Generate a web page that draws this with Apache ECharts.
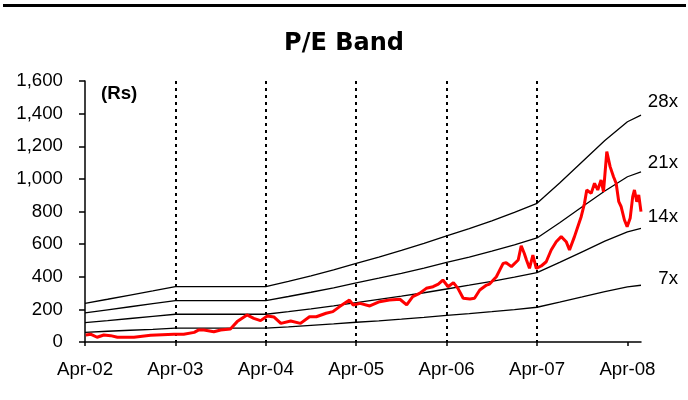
<!DOCTYPE html>
<html>
<head>
<meta charset="utf-8">
<script src="https://cdn.jsdelivr.net/npm/echarts@6/dist/echarts.min.js"></script>
<style>
html,body{margin:0;padding:0;background:#fff;}
#chart{width:688px;height:400px;}
</style>
</head>
<body>
<div id="chart"></div>
<script>
// x values are months since Apr-02
var tickLabels = ['Apr-02','Apr-03','Apr-04','Apr-05','Apr-06','Apr-07','Apr-08'];
var tickMonths = [0,12,24,36,48,60,72];

var bandMonths = [0,3,6,9,12,15,18,21,24,27,30,33,36,39,42,45,48,51,54,57,60,63,66,69,72,73.8];
var band28 = [237,262,288,313,339,339,339,339,339,372,406,442,482,521,561,604,650,695,743,795,850,975,1105,1235,1350,1391];
var band21 = [178,197,216,235,254,254,254,254,254,279,305,332,362,391,421,453,488,521,557,596,638,731,829,926,1013,1043];
var band14 = [119,131,144,157,170,170,170,170,170,186,203,221,241,261,281,302,325,348,372,398,425,488,553,618,675,696];
var band7  = [59,66,72,78,85,85,85,85,85,93,102,111,121,130,140,151,163,174,186,199,213,244,276,309,338,348];

var priceMonths = [0.1,0.8,1.6,2.5,3.4,4.3,6.5,8.7,11.8,13.1,14.5,15.1,15.8,17.1,18.0,19.3,20.2,21.5,22.4,23.3,24.2,25.1,26.0,27.3,28.6,29.8,30.7,32.0,32.9,33.8,35.1,35.6,36.5,37.8,39.1,40.4,41.8,42.7,43.5,44.4,45.3,46.2,46.9,47.5,48.2,48.9,49.5,50.2,51.1,51.7,52.4,53.3,53.7,54.6,55.5,55.9,56.6,57.5,57.9,58.3,58.6,59.0,59.45,59.9,60.56,61.22,61.88,62.55,63.21,63.87,64.31,64.97,65.41,65.86,66.3,66.6,67.19,67.63,68.06,68.5,68.82,69.26,69.7,70.15,70.5,70.85,71.17,71.6,71.96,72.36,72.7,72.93,73.24,73.5,73.8];
var priceValues = [43,47,29,43,39,29,29,41,47,47,59,74,74,63,74,80,125,166,145,131,159,153,114,129,114,155,155,176,186,217,257,227,237,221,247,257,262,227,278,298,329,339,355,380,339,364,329,268,264,268,319,349,355,400,482,486,462,503,589,544,503,452,533,452,466,492,564,615,646,615,564,646,707,768,850,932,911,973,932,993,921,1167,1075,1013,973,860,829,748,707,758,891,932,860,901,799];

var bandNames = ['28x','21x','14x','7x'];
var bandValues = [band28, band21, band14, band7];
var labelDy = [-13, -9, -12, -6];

function pairs(xs, ys){ return xs.map(function(x,i){ return [x, ys[i]]; }); }

var FONT = 'Arial, "Liberation Sans", sans-serif';
var series = bandValues.map(function(vals, i){
  return {
    type:'line', name: bandNames[i], data: pairs(bandMonths, vals),
    symbol:'none', silent:true,
    lineStyle:{color:'#000', width:1.3},
    endLabel:{show:true, formatter: bandNames[i], align:'right', verticalAlign:'middle',
      distance:0, offset:[37, labelDy[i]], color:'#000', fontSize:18.7, fontFamily:FONT}
  };
});
series.push({
  type:'line', name:'Price', data: pairs(priceMonths, priceValues),
  symbol:'none', silent:true, z:5,
  lineStyle:{color:'#ff0000', width:3}
});

var chart = echarts.init(document.getElementById('chart'), null, {renderer:'canvas'});
chart.setOption({
  animation:false,
  backgroundColor:'#fff',
  title:[
    {text:'P/E Band', left:'center', top:27,
     textStyle:{fontFamily:'Verdana, "DejaVu Sans", sans-serif', fontWeight:'bold', fontSize:24, color:'#000'}},
    {text:'(Rs)', left:96, top:79,
     textStyle:{fontFamily:FONT, fontWeight:'bold', fontSize:18.7, color:'#000'}}
  ],
  graphic:[{type:'rect', shape:{x:3, y:4, width:683, height:3}, style:{fill:'#000'}}],
  grid:{left:85, right:47, top:81, bottom:58, containLabel:false},
  xAxis:{
    type:'value', min:0, max:73.8, interval:12,
    axisLine:{show:true, lineStyle:{color:'#000', width:1.5}},
    axisTick:{show:true, length:4, customValues:tickMonths, lineStyle:{color:'#000', width:1.5}},
    axisLabel:{customValues:tickMonths, margin:18, color:'#000', fontSize:18.7, fontFamily:FONT,
      formatter:function(v){ var i = tickMonths.indexOf(Math.round(v)); return (i>=0 && Math.abs(v-tickMonths[i])<0.01) ? tickLabels[i] : ''; }},
    splitLine:{show:true, showMinLine:false, showMaxLine:false, lineStyle:{color:'#000', width:2, type:[3,4]}}
  },
  yAxis:{
    type:'value', min:0, max:1600, interval:200,
    axisLine:{show:true, lineStyle:{color:'#000', width:1.5}},
    axisTick:{show:true, length:6, lineStyle:{color:'#000', width:1.5}},
    axisLabel:{margin:22, color:'#000', fontSize:18.7, fontFamily:FONT,
      formatter:function(v){ return v.toLocaleString('en-US'); }},
    splitLine:{show:false}
  },
  series:series
});
</script>
</body>
</html>
